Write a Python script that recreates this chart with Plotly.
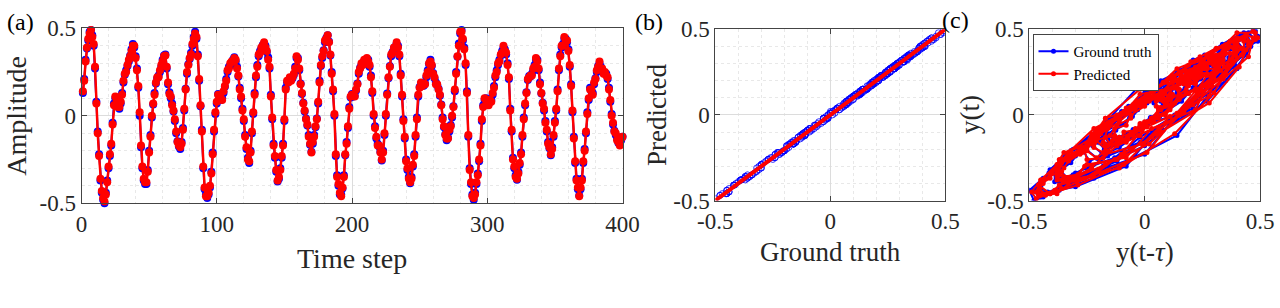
import plotly.graph_objects as go

# ---------------- data ----------------
time_step = list(range(1, 401))

ground_truth = [
    0.13, 0.21, 0.32, 0.385, 0.43, 0.48, 0.49, 0.46, 0.40, 0.27, 0.08, -0.09, -0.22, -0.37, -0.44, -0.48, -0.50, -0.44, -0.37, -0.30,
    -0.23, -0.17, -0.04, 0.07, 0.10, 0.08, 0.06, 0.04, 0.07, 0.13, 0.19, 0.235, 0.26, 0.285, 0.31, 0.345, 0.38, 0.41, 0.39, 0.34,
    0.27, 0.16, 0.00, -0.18, -0.30, -0.37, -0.39, -0.39, -0.31, -0.20, -0.11, -0.01, 0.065, 0.13, 0.185, 0.215, 0.23, 0.25, 0.28, 0.32,
    0.345, 0.35, 0.27, 0.18, 0.135, 0.10, 0.07, 0.025, -0.03, -0.10, -0.145, -0.175, -0.19, -0.15, -0.07, 0.03, 0.155, 0.24, 0.295, 0.325,
    0.36, 0.40, 0.45, 0.48, 0.44, 0.35, 0.20, 0.055, -0.08, -0.30, -0.42, -0.45, -0.47, -0.45, -0.41, -0.32, -0.21, -0.09, 0.01, 0.07,
    0.125, 0.10, 0.09, 0.10, 0.13, 0.166, 0.21, 0.25, 0.28, 0.29, 0.30, 0.32, 0.335, 0.31, 0.28, 0.225, 0.16, 0.10, 0.04, -0.03,
    -0.11, -0.19, -0.24, -0.27, -0.20, -0.10, 0.01, 0.13, 0.22, 0.29, 0.34, 0.37, 0.385, 0.405, 0.41, 0.40, 0.365, 0.335, 0.27, 0.12,
    -0.02, -0.16, -0.24, -0.32, -0.375, -0.36, -0.30, -0.24, -0.16, -0.03, 0.16, 0.19, 0.20, 0.21, 0.21, 0.215, 0.235, 0.28, 0.33, 0.33,
    0.26, 0.185, 0.125, 0.075, 0.025, -0.015, -0.055, -0.11, -0.165, -0.205, -0.16, -0.11, -0.065, -0.015, 0.07, 0.20, 0.285, 0.33, 0.375, 0.42,
    0.445, 0.46, 0.425, 0.345, 0.25, 0.14, 0.00, -0.23, -0.34, -0.40, -0.45, -0.45, -0.415, -0.34, -0.225, -0.15, -0.07, 0.05, 0.105, 0.125,
    0.11, 0.115, 0.145, 0.185, 0.24, 0.275, 0.29, 0.30, 0.31, 0.315, 0.32, 0.32, 0.28, 0.23, 0.13, 0.00, -0.06, -0.13, -0.16, -0.175,
    -0.205, -0.255, -0.20, -0.11, 0.00, 0.128, 0.215, 0.285, 0.34, 0.365, 0.385, 0.395, 0.41, 0.40, 0.34, 0.24, 0.11, -0.02, -0.13, -0.25,
    -0.31, -0.35, -0.385, -0.35, -0.29, -0.22, -0.12, -0.01, 0.11, 0.165, 0.185, 0.18, 0.172, 0.185, 0.22, 0.26, 0.295, 0.32, 0.285, 0.245,
    0.215, 0.19, 0.175, 0.155, 0.115, 0.065, -0.01, -0.065, -0.105, -0.14, -0.125, -0.09, -0.053, -0.01, 0.055, 0.14, 0.25, 0.337, 0.413, 0.47,
    0.49, 0.43, 0.39, 0.29, 0.14, -0.12, -0.30, -0.39, -0.45, -0.48, -0.44, -0.39, -0.33, -0.26, -0.16, -0.03, 0.06, 0.09, 0.10, 0.085,
    0.07, 0.08, 0.09, 0.12, 0.17, 0.22, 0.26, 0.29, 0.32, 0.345, 0.37, 0.39, 0.38, 0.35, 0.30, 0.21, 0.04, -0.09, -0.24, -0.30,
    -0.34, -0.365, -0.32, -0.28, -0.21, -0.12, -0.01, 0.06, 0.135, 0.205, 0.228, 0.225, 0.24, 0.26, 0.29, 0.32, 0.32, 0.26, 0.19, 0.128,
    0.075, 0.03, -0.03, -0.09, -0.15, -0.185, -0.225, -0.18, -0.12, -0.03, 0.03, 0.15, 0.26, 0.35, 0.39, 0.41, 0.44, 0.44, 0.42, 0.38,
    0.28, 0.18, 0.02, -0.12, -0.27, -0.36, -0.42, -0.455, -0.42, -0.36, -0.27, -0.19, -0.10, 0.02, 0.09, 0.16, 0.14, 0.13, 0.18, 0.215,
    0.25, 0.285, 0.30, 0.28, 0.26, 0.25, 0.245, 0.24, 0.21, 0.16, 0.08, 0.01, -0.05, -0.085, -0.11, -0.13, -0.155, -0.16, -0.14, -0.12,
]

predicted = [
    0.14, 0.20, 0.31, 0.39, 0.44, 0.47, 0.49, 0.45, 0.41, 0.28, 0.07, -0.10, -0.23, -0.36, -0.43, -0.47, -0.49, -0.45, -0.38, -0.29,
    -0.22, -0.16, -0.05, 0.06, 0.11, 0.09, 0.05, 0.05, 0.08, 0.12, 0.20, 0.24, 0.25, 0.29, 0.32, 0.34, 0.37, 0.40, 0.40, 0.33,
    0.26, 0.17, 0.02, -0.17, -0.29, -0.36, -0.38, -0.38, -0.32, -0.21, -0.12, 0.00, 0.07, 0.12, 0.19, 0.22, 0.22, 0.26, 0.29, 0.31,
    0.34, 0.345, 0.28, 0.19, 0.125, 0.11, 0.06, 0.03, -0.02, -0.09, -0.15, -0.17, -0.18, -0.16, -0.08, 0.04, 0.15, 0.25, 0.29, 0.33,
    0.35, 0.41, 0.44, 0.47, 0.45, 0.34, 0.21, 0.06, -0.09, -0.29, -0.41, -0.46, -0.46, -0.44, -0.40, -0.33, -0.22, -0.08, 0.02, 0.08,
    0.12, 0.11, 0.10, 0.09, 0.14, 0.17, 0.20, 0.26, 0.27, 0.30, 0.31, 0.31, 0.33, 0.32, 0.27, 0.23, 0.15, 0.11, 0.03, -0.02,
    -0.12, -0.18, -0.25, -0.26, -0.21, -0.09, 0.02, 0.12, 0.23, 0.28, 0.35, 0.36, 0.39, 0.40, 0.42, 0.39, 0.37, 0.32, 0.28, 0.11,
    -0.01, -0.17, -0.23, -0.31, -0.37, -0.35, -0.31, -0.23, -0.17, -0.02, 0.15, 0.20, 0.19, 0.22, 0.20, 0.22, 0.24, 0.27, 0.34, 0.32,
    0.27, 0.18, 0.13, 0.07, 0.03, -0.02, -0.05, -0.12, -0.16, -0.21, -0.15, -0.12, -0.06, -0.02, 0.08, 0.19, 0.29, 0.34, 0.37, 0.43,
    0.44, 0.46, 0.42, 0.35, 0.24, 0.15, 0.01, -0.22, -0.35, -0.39, -0.44, -0.46, -0.41, -0.35, -0.22, -0.16, -0.06, 0.04, 0.11, 0.12,
    0.12, 0.11, 0.15, 0.18, 0.25, 0.27, 0.30, 0.29, 0.32, 0.31, 0.33, 0.31, 0.29, 0.22, 0.14, 0.01, -0.07, -0.12, -0.17, -0.17,
    -0.21, -0.25, -0.21, -0.10, 0.01, 0.12, 0.22, 0.28, 0.35, 0.36, 0.39, 0.39, 0.42, 0.39, 0.35, 0.23, 0.12, -0.03, -0.12, -0.26,
    -0.30, -0.36, -0.38, -0.36, -0.28, -0.23, -0.11, -0.02, 0.12, 0.16, 0.19, 0.17, 0.18, 0.18, 0.23, 0.25, 0.30, 0.31, 0.29, 0.24,
    0.22, 0.18, 0.18, 0.15, 0.12, 0.06, -0.02, -0.06, -0.11, -0.13, -0.13, -0.08, -0.06, 0.00, 0.05, 0.15, 0.24, 0.34, 0.40, 0.48,
    0.48, 0.44, 0.38, 0.30, 0.13, -0.11, -0.31, -0.38, -0.46, -0.47, -0.45, -0.38, -0.34, -0.25, -0.17, -0.02, 0.05, 0.10, 0.09, 0.09,
    0.06, 0.09, 0.08, 0.13, 0.16, 0.23, 0.25, 0.30, 0.31, 0.35, 0.36, 0.40, 0.37, 0.36, 0.29, 0.22, 0.03, -0.08, -0.25, -0.29,
    -0.35, -0.36, -0.33, -0.27, -0.22, -0.11, -0.02, 0.07, 0.13, 0.21, 0.22, 0.23, 0.23, 0.27, 0.28, 0.33, 0.31, 0.27, 0.18, 0.13,
    0.07, 0.04, -0.04, -0.08, -0.16, -0.18, -0.22, -0.19, -0.11, -0.04, 0.04, 0.14, 0.27, 0.34, 0.40, 0.40, 0.45, 0.43, 0.43, 0.37,
    0.29, 0.17, 0.03, -0.13, -0.26, -0.37, -0.41, -0.46, -0.41, -0.37, -0.26, -0.20, -0.09, 0.01, 0.10, 0.15, 0.15, 0.12, 0.19, 0.21,
    0.26, 0.28, 0.31, 0.27, 0.27, 0.24, 0.25, 0.23, 0.22, 0.15, 0.09, 0.00, -0.04, -0.09, -0.10, -0.14, -0.15, -0.17, -0.13, -0.12,
]

fit_line_x = [-0.5, 0.5]
fit_line_y = [-0.5, 0.5]

delay_tau = 1

ts_ticks = [0, 100, 200, 300, 400]
amp_ticks = [-0.5, 0, 0.5]
amp_tick_text = ["-0.5", "0", "0.5"]

# ---------------- styling ----------------
FONT = "Liberation Serif"
TXT = "#262626"
BLUE = "#0000FF"
RED = "#FF0000"
W, H = 1280, 308

fig = go.Figure()

# panel (a)
fig.add_trace(go.Scatter(x=time_step, y=ground_truth, mode="lines+markers",
                         line=dict(color=BLUE, width=2), marker=dict(color=BLUE, size=8),
                         xaxis="x", yaxis="y", showlegend=False, cliponaxis=False))
fig.add_trace(go.Scatter(x=time_step, y=predicted, mode="lines+markers",
                         line=dict(color=RED, width=2.5), marker=dict(color=RED, size=8),
                         xaxis="x", yaxis="y", showlegend=False, cliponaxis=False))

# panel (b)
fig.add_trace(go.Scatter(x=ground_truth, y=predicted, mode="markers",
                         marker=dict(symbol="circle-open", color=BLUE, size=6, line=dict(width=0.8)),
                         xaxis="x2", yaxis="y2", showlegend=False))
fig.add_trace(go.Scatter(x=fit_line_x, y=fit_line_y, mode="lines",
                         line=dict(color=RED, width=4),
                         xaxis="x2", yaxis="y2", showlegend=False, cliponaxis=False))

# panel (c)
fig.add_trace(go.Scatter(x=ground_truth[:-delay_tau], y=ground_truth[delay_tau:], mode="lines+markers",
                         line=dict(color=BLUE, width=2), marker=dict(color=BLUE, size=5),
                         name="Ground truth", xaxis="x3", yaxis="y3"))
fig.add_trace(go.Scatter(x=predicted[:-delay_tau], y=predicted[delay_tau:], mode="lines+markers",
                         line=dict(color=RED, width=2), marker=dict(color=RED, size=5),
                         name="Predicted", xaxis="x3", yaxis="y3"))


def px_x(p):
    return p / W


def px_y(p):
    return 1 - p / H


def axis(domain, rng, tickvals, ticktext, minor_dtick, anchor):
    return dict(domain=domain, range=rng, anchor=anchor, automargin=False,
                tickmode="array", tickvals=tickvals, ticktext=ticktext,
                ticks="inside", ticklen=5, tickwidth=1, tickcolor="#444444",
                showline=True, linecolor="#444444", linewidth=1, mirror="ticks",
                showgrid=True, gridcolor="#DCDCDC", gridwidth=1,
                zeroline=False,
                minor=dict(dtick=minor_dtick, showgrid=True, gridcolor="#E8E8E8",
                           griddash="dot", gridwidth=1, ticks=""),
                tickfont=dict(family=FONT, size=23, color=TXT))


ya_dom = [px_y(203.3), px_y(28.3)]
yb_dom = [px_y(200.5), px_y(29.3)]

layout = dict(
    width=W, height=H, margin=dict(l=0, r=0, t=0, b=0, pad=0, autoexpand=False),
    paper_bgcolor="white", plot_bgcolor="white",
    font=dict(family=FONT, color=TXT),
    xaxis=axis([px_x(81.5), px_x(622.5)], [0, 400], ts_ticks, [str(v) for v in ts_ticks], 20, "y"),
    yaxis=axis(ya_dom, [-0.5, 0.5], amp_ticks, amp_tick_text, 0.1, "x"),
    xaxis2=axis([px_x(715.3), px_x(945.3)], [-0.5, 0.5], amp_ticks, amp_tick_text, 0.1, "y2"),
    yaxis2=axis(yb_dom, [-0.5, 0.5], amp_ticks, amp_tick_text, 0.1, "x2"),
    xaxis3=axis([px_x(1029.3), px_x(1260)], [-0.5, 0.5], amp_ticks, amp_tick_text, 0.1, "y3"),
    yaxis3=axis(yb_dom, [-0.5, 0.5], amp_ticks, amp_tick_text, 0.1, "x3"),
    legend=dict(x=px_x(1032.5), y=px_y(34), xanchor="left", yanchor="top",
                bgcolor="white", bordercolor="#444444", borderwidth=1,
                font=dict(family=FONT, size=15, color="black"),
                tracegroupgap=0, itemwidth=30),
)
fig.update_layout(**layout)


def ann(text, x, y, size, angle=0, color=TXT):
    fig.add_annotation(text=text, x=px_x(x), y=px_y(y), xref="paper", yref="paper",
                       showarrow=False, textangle=angle, xanchor="center", yanchor="middle",
                       font=dict(family=FONT, size=size, color=color))


# panel labels
ann("(a)", 20, 22, 24, color="black")
ann("(b)", 649, 22, 24, color="black")
ann("(c)", 955, 20, 24, color="black")

# axis titles
ann("Amplitude", 17, 115.8, 28, angle=-90)
ann("Time step", 352, 258, 28)
ann("Predicted", 657, 115, 27, angle=-90)
ann("Ground truth", 830, 252, 27)
ann("y(t)", 970, 115, 27, angle=-90)
ann("y(t-<i>τ</i>)", 1145, 252, 27)

fig.write_html("out.html",
               config={"displayModeBar": False},
               post_script="document.body.style.margin='0';document.body.style.overflow='hidden';")
